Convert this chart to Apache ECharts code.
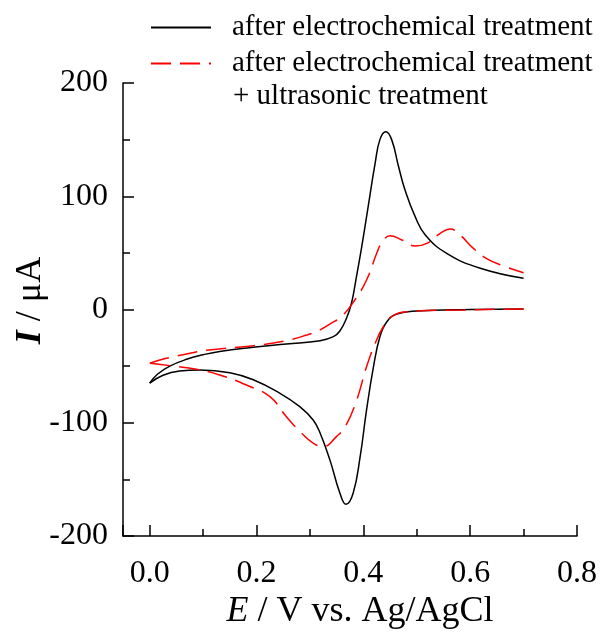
<!DOCTYPE html>
<html>
<head>
<meta charset="utf-8">
<script src="https://cdn.jsdelivr.net/npm/echarts@6/dist/echarts.min.js"></script>
<style>
  html, body { margin: 0; padding: 0; background: #fff; }
  #main { width: 603px; height: 639px; }
</style>
</head>
<body>
<div id="main"></div>
<script>
 var myChart = echarts.init(document.getElementById('main'));

 // 曲线数据 (E / V, I / μA)，正扫和回扫分开
 var blackFwdE = [0.000, 0.015, 0.0375, 0.069, 0.100, 0.131, 0.194, 0.256, 0.319, 0.344, 0.356, 0.369, 0.378, 0.386, 0.397, 0.409, 0.422, 0.431, 0.442, 0.453, 0.466, 0.478, 0.497, 0.516, 0.556, 0.619, 0.700];
 var blackFwdI = [-65, -57, -50, -44, -40, -37, -33.4, -30.5, -27.5, -24, -19, -7, 6, 26, 55.5, 90.8, 129, 150, 157, 150, 126, 105.5, 82, 65.8, 49.6, 36.4, 27.5];
 var blackRevE = [0.700, 0.600, 0.500, 0.4625, 0.444, 0.431, 0.419, 0.406, 0.394, 0.381, 0.3675, 0.356, 0.3375, 0.319, 0.306, 0.281, 0.244, 0.194, 0.150, 0.094, 0.056, 0.025, 0.000];
 var blackRevI = [0.5, 0, -1.3, -4, -10.8, -24, -50.5, -88.7, -130, -162, -172, -162, -133, -109, -97.6, -85.8, -74, -62, -55.8, -53.4, -54.3, -58, -65];

 var redFwdE = [0.000, 0.019, 0.044, 0.069, 0.106, 0.194, 0.256, 0.294, 0.319, 0.340, 0.359, 0.384, 0.406, 0.425, 0.434, 0.450, 0.472, 0.497, 0.519, 0.544, 0.5625, 0.581, 0.606, 0.631, 0.6625, 0.700];
 var redFwdI = [-47.5, -44.6, -41.7, -39.3, -36, -32, -27.5, -22.5, -18, -12, -6.3, 8.4, 26, 49.6, 58.4, 65.2, 61.4, 56, 58.4, 67.3, 71, 65.8, 54, 45, 38.4, 32.5];
 var redRevE = [0.700, 0.5875, 0.481, 0.453, 0.4375, 0.422, 0.406, 0.3875, 0.366, 0.350, 0.325, 0.306, 0.284, 0.256, 0.225, 0.181, 0.131, 0.0875, 0.044, 0.000];
 var redRevI = [0.5, -0.4, -1.9, -6.3, -15, -30, -50.5, -80, -103.5, -112, -121, -118, -109, -94.7, -77, -66.7, -57.8, -52.8, -49.9, -47.5];

 var seriesNames = ['after electrochemical treatment', 'after electrochemical treatment '];
 var legendExtra = '+ ultrasonic treatment';

 function pairs(xs, ys) {
	 return xs.map(function (x, i) { return [x, ys[i]]; });
 }

 var font = 'Liberation Serif';
 var blackLine = { color: '#000', width: 1.5 };
 var redLine = { color: '#ff0000', width: 1.5, type: [20, 9] };

 function curve(name, line, color, data) {
	 return {
		 name: name,
		 type: 'line',
		 symbol: 'none',
		 smooth: 0.45,
		 lineStyle: line,
		 itemStyle: { color: color },
		 data: data
	 };
 }

 var option = {
	 animation: false,
	 grid: { left: 123, top: 83, right: 26, bottom: 103, outerBoundsMode: 'none', containLabel: false },
	 legend: {
		 orient: 'vertical',
		 left: 145,
		 top: 8,
		 itemWidth: 60,
		 itemHeight: 14,
		 itemGap: 7,
		 itemStyle: { opacity: 0 },
		 data: seriesNames,
		 textStyle: { fontFamily: font, fontSize: 29, color: '#000', padding: [0, 0, 0, 16] }
	 },
	 graphic: [{
		 type: 'text',
		 left: 233,
		 top: 82,
		 style: { text: legendExtra, font: '29px ' + font, fill: '#000' }
	 }],
	 xAxis: {
		 type: 'value',
		 min: -0.05,
		 max: 0.8,
		 name: '{i|E} / V vs. Ag/AgCl',
		 nameLocation: 'middle',
		 nameGap: 58,
		 nameMoveOverlap: false,
		 nameTextStyle: {
			 fontFamily: font, fontSize: 36, color: '#000', padding: [0, 0, 0, 20],
			 rich: { i: { fontFamily: font, fontSize: 36, fontStyle: 'italic', color: '#000' } }
		 },
		 axisLine: { onZero: false, lineStyle: { color: '#000', width: 1.5 } },
		 axisTick: { inside: true, length: 11, lineStyle: { color: '#000', width: 1.5 } },
		 minorTick: { show: true, splitNumber: 2, length: 7, lineStyle: { color: '#000', width: 1.5 } },
		 splitLine: { show: false },
		 axisLabel: {
			 margin: 22, fontFamily: font, fontSize: 32, color: '#000',
			 showMinLabel: false,
			 formatter: function (v) { return v.toFixed(1); }
		 }
	 },
	 yAxis: {
		 type: 'value',
		 min: -200,
		 max: 200,
		 interval: 100,
		 name: '{i|I} / μA',
		 nameLocation: 'middle',
		 nameGap: 74,
		 nameMoveOverlap: false,
		 nameTextStyle: {
			 fontFamily: font, fontSize: 36, color: '#000', padding: [0, 0, 0, 18],
			 rich: { i: { fontFamily: font, fontSize: 36, fontStyle: 'italic', fontWeight: 'bold', color: '#000' } }
		 },
		 axisLine: { onZero: false, lineStyle: { color: '#000', width: 1.5 } },
		 axisTick: { inside: true, length: 11, lineStyle: { color: '#000', width: 1.5 } },
		 minorTick: { show: true, splitNumber: 2, length: 7, lineStyle: { color: '#000', width: 1.5 } },
		 splitLine: { show: false },
		 axisLabel: { margin: 15, fontFamily: font, fontSize: 32, color: '#000' }
	 },
	 series: [
		 curve(seriesNames[0], blackLine, '#000', pairs(blackFwdE, blackFwdI)),
		 curve(seriesNames[0], blackLine, '#000', pairs(blackRevE, blackRevI)),
		 curve(seriesNames[1], redLine, '#ff0000', pairs(redFwdE, redFwdI)),
		 curve(seriesNames[1], redLine, '#ff0000', pairs(redRevE, redRevI))
	 ]
 };

 myChart.setOption(option);
</script>
</body>
</html>
